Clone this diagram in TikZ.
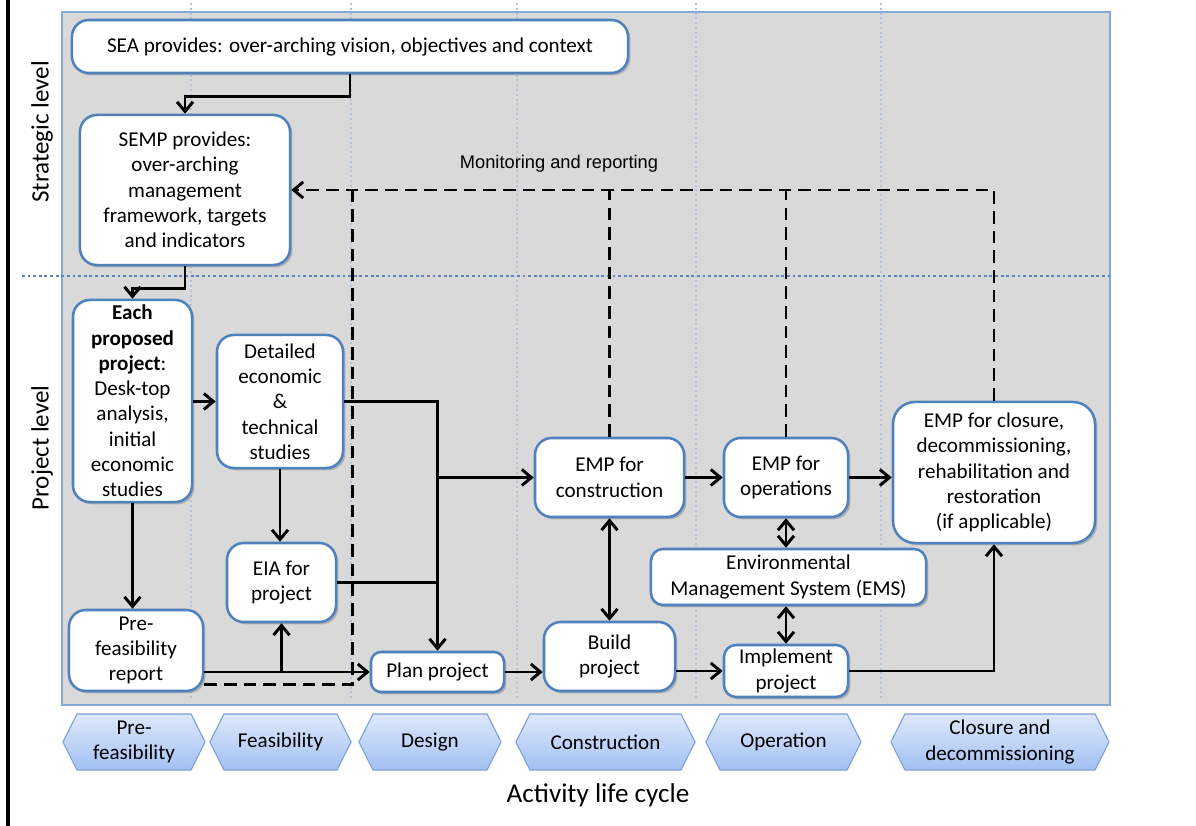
\documentclass[tikz,border=0pt]{standalone}
\usepackage{fontspec}
\setmainfont{Carlito}
\newfontfamily\labfont{Liberation Sans}
\usetikzlibrary{arrows.meta,positioning,shapes.symbols,shadows,calc}
\definecolor{panelgray}{HTML}{D9D9D9}
\definecolor{paneledge}{HTML}{85A8D6}
\definecolor{boxedge}{HTML}{4F81BD}
\definecolor{gridblue}{HTML}{B0C3DC}
\definecolor{levelblue}{HTML}{5A86C4}
\definecolor{phasetop}{HTML}{DDE8FB}
\definecolor{phasebot}{HTML}{A3C1F3}
\definecolor{phaseedge}{HTML}{7FA1D8}

\begin{document}
\begin{tikzpicture}[x=0.025cm, y=-0.025cm, >={Straight Barb[length=2.4mm,width=4mm]},
  box/.style={draw=boxedge, line width=1.8pt, fill=white, rounded corners=0.42cm, align=center, inner sep=0pt,
    font=\fontsize{15}{18}\selectfont, drop shadow={opacity=0.45, shadow xshift=0.6mm, shadow yshift=-0.6mm}},
  phase/.style={signal, signal to=east and west, signal pointer angle=127, draw=phaseedge, line width=0.8pt,
    top color=phasetop, bottom color=phasebot, align=center, inner sep=0pt, minimum height=1.4cm,
    font=\fontsize{15}{18}\selectfont},
  flow/.style={line width=2.1pt},
  mon/.style={line width=2.1pt, dash pattern=on 9pt off 5pt},
  sep/.style={gridblue, line width=1.4pt, dotted}]
\useasboundingbox (0,0) rectangle (1196,826);
\fill[white] (0,0) rectangle (1196,826);
\draw[line width=2.2pt] (8,0) -- (8,826);
% panel and grid
\draw[paneledge, fill=panelgray, line width=0.8pt] (62,12) rectangle (1110,705);
\foreach \x in {191,351,517,696,881} \draw[sep] (\x,3) -- (\x,700);
\draw[levelblue, line width=2pt, dotted] (22,276) -- (1112,276);
\node[rotate=90, font=\fontsize{17.8}{20}\selectfont] (strat) at (42,132) {Strategic level};
\node[rotate=90, font=\fontsize{17.8}{20}\selectfont] (proj) at (42,448) {Project level};
% boxes
\node[box, minimum width=13.9cm, minimum height=1.325cm] (sea) at (350,46.5) {SEA provides: over-arching vision, objectives and context};
\node[box, minimum width=5.25cm, minimum height=3.75cm] (semp) at (185,190) {SEMP provides:\\over-arching\\management\\framework, targets\\and indicators};
\node[box, minimum width=2.975cm, minimum height=5.05cm] (each) at (132.5,401) {\textbf{Each}\\\textbf{proposed}\\\textbf{project}:\\Desk-top\\analysis,\\initial\\economic\\studies};
\node[box, minimum width=3.15cm, minimum height=3.325cm] (detail) at (280,401.5) {Detailed\\economic\\\&\\technical\\studies};
\node[box, minimum width=2.725cm, minimum height=1.975cm] (eia) at (281.5,582.5) {EIA for\\project};
\node[box, minimum width=3.35cm, minimum height=2.025cm] (pre) at (136,650.5) {Pre-\\feasibility\\report};
\node[box, minimum width=3.325cm, minimum height=1.0cm, rounded corners=0.25cm] (plan) at (437.5,672) {Plan project};
\node[box, minimum width=3.725cm, minimum height=1.975cm] (empc) at (609.5,477.5) {EMP for\\construction};
\node[box, minimum width=3.275cm, minimum height=1.725cm] (build) at (609.5,656.5) {Build\\project};
\node[box, minimum width=3.1cm, minimum height=1.975cm] (empo) at (786,477.5) {EMP for\\operations};
\node[box, minimum width=6.875cm, minimum height=1.4cm, rounded corners=0.3cm] (ems) at (788.5,577) {Environmental\\Management System (EMS)};
\node[box, minimum width=3.1cm, minimum height=1.3cm, rounded corners=0.3cm] (impl) at (786,671) {Implement\\project};
\node[box, minimum width=5.05cm, minimum height=3.525cm, rounded corners=0.55cm] (close) at (994,472.5) {EMP for closure,\\decommissioning,\\rehabilitation and\\restoration\\(if applicable)};
% flow
\draw[flow,->] (sea.south) -- ++(0,22) -| (semp.north);
\draw[flow,->] (semp.south) -- ++(0,22) -| (each.north);
\draw[flow,->] (each.east |- detail.west) -- (detail.west);
\draw[flow,->] (each.south) -- (each.south |- pre.north);
\draw[flow,->] (detail.south) -- (detail.south |- eia.north);
\draw[flow,->] (detail.east) -| (plan.north);
\draw[flow,->] (plan.north |- empc.west) -- (empc.west);
\draw[flow] (eia.east) -- (eia.east -| plan.north);
\draw[flow,->] (pre.east |- plan.west) -- (plan.west);
\draw[flow,->] (eia.south |- plan.west) -- (eia.south);
\draw[flow,->] (plan.east) -- (plan.east -| build.west);
\draw[flow,->] (build.east |- impl.west) -- (impl.west);
\draw[flow,<->] (empc.south) -- (build.north);
\draw[flow,->] (empc.east) -- (empo.west);
\draw[flow,->] (empo.east) -- (empo.east -| close.west);
\draw[flow,<->] (empo.south) -- (empo.south |- ems.north);
\draw[flow,<->] (ems.south -| impl.north) -- (impl.north);
\draw[flow,->] (impl.east) -| (close.south);
% monitoring and reporting
\draw[mon,->] (close.north) |- (semp.east);
\draw[mon] (empc.north) -- (empc.north |- semp.east);
\draw[mon] (empo.north) -- (empo.north |- semp.east);
\draw[mon] ([yshift=-24pt]pre.east) -- ++(148,0) coordinate (dcorner) -- (dcorner |- semp.east);
\node[font=\labfont\fontsize{13}{15}\selectfont] (monlab) at (559,164) {Monitoring and reporting};
% life cycle
\node[phase, minimum width=3.55cm] (ph1) at (134,742) {Pre-\\feasibility};
\node[phase, minimum width=3.525cm] (ph2) at (280.5,742) {Feasibility};
\node[phase, minimum width=3.55cm] (ph3) at (430,742) {Design};
\node[phase, minimum width=4.475cm] (ph4) at (605.5,742) {Construction};
\node[phase, minimum width=3.875cm] (ph5) at (783.5,742) {Operation};
\node[phase, minimum width=5.45cm] (ph6) at (1000,742) {Closure and\\decommissioning};
\node[font=\fontsize{19.3}{22}\selectfont] (cycle) at (598,795) {Activity life cycle};
\end{tikzpicture}
\end{document}
